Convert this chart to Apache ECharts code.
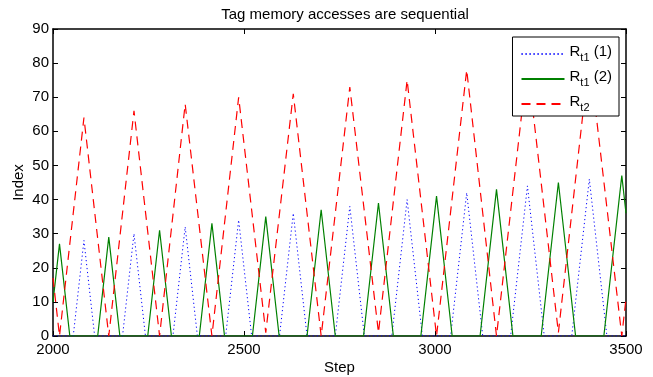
<!DOCTYPE html>
<html>
<head>
<meta charset="utf-8">
<script src="https://cdn.jsdelivr.net/npm/echarts@6/dist/echarts.min.js"></script>
<style>
html,body{margin:0;padding:0;background:#fff;}
#chart{width:653px;height:377px;}
</style>
</head>
<body>
<div id="chart"></div>
<script>
// axis ticks
var xTicks = [2000, 2500, 3000, 3500];
var yTicks = [0, 10, 20, 30, 40, 50, 60, 70, 80, 90];

// R_t1 (1) - blue dotted
var blueSteps = [2000, 2053, 2081, 2109, 2182, 2212, 2242, 2314, 2346, 2378, 2452, 2486, 2520, 2593, 2629, 2665, 2739, 2777, 2815, 2887, 2927, 2967, 3041, 3083, 3125, 3198, 3242, 3286, 3358, 3404, 3450, 3500];
var blueIndex = [0, 0, 28, 0, 0, 30, 0, 0, 32, 0, 0, 34, 0, 0, 36, 0, 0, 38, 0, 0, 40, 0, 0, 42, 0, 0, 44, 0, 0, 46, 0, 0];

// R_t1 (2) - green solid
var greenSteps = [2000, 2017, 2044, 2117, 2146, 2175, 2248, 2279, 2310, 2383, 2416, 2449, 2522, 2557, 2592, 2665, 2702, 2739, 2813, 2852, 2891, 2963, 3004, 3045, 3118, 3161, 3204, 3278, 3323, 3368, 3442, 3489, 3500];
var greenIndex = [10, 27, 0, 0, 29, 0, 0, 31, 0, 0, 33, 0, 0, 35, 0, 0, 37, 0, 0, 39, 0, 0, 41, 0, 0, 43, 0, 0, 45, 0, 0, 47, 36];

// R_t2 - red dashed
var redSteps = [2000, 2017, 2081, 2146, 2212, 2279, 2346, 2416, 2486, 2557, 2629, 2702, 2777, 2852, 2927, 3004, 3083, 3161, 3242, 3323, 3404, 3489, 3500];
var redIndex = [17, 0, 64, 0, 66, 0, 68, 0, 70, 1, 71, 0, 73, 1, 75, 0, 78, 0, 80, 1, 82, 0, 11];

var names = ['Rt1 (1)', 'Rt1 (2)', 'Rt2'];
var legendText = {
    'Rt1 (1)': '{b|R}{s|t1}{b| (1)}',
    'Rt1 (2)': '{b|R}{s|t1}{b| (2)}',
    'Rt2': '{b|R}{s|t2}'
};

function pairs(xs, ys){
    var out = [];
    for (var i = 0; i < xs.length; i++) out.push([xs[i], ys[i]]);
    return out;
}

var font = 'Liberation Sans, Arial, Helvetica, sans-serif';

var chart = {
    init:function(){
        this.mc = echarts.init(document.getElementById('chart'));
        this.render();
    },
    axisX:function(pos, show){
        return {
            type:'value', position:pos, min:xTicks[0], max:xTicks[xTicks.length-1],
            interval:xTicks[1]-xTicks[0],
            name: show ? 'Step' : '', nameLocation:'middle', nameGap:24, nameMoveOverlap:false,
            nameTextStyle:{fontFamily:font, fontSize:15, color:'#000'},
            axisLine:{show:true, onZero:false, lineStyle:{color:'#000', width:1.5}},
            axisTick:{show:true, inside:true, length:5, lineStyle:{color:'#000'}},
            axisLabel:{show:show, margin:6, fontFamily:font, fontSize:15, color:'#000',
                       formatter:function(v){ return String(v); }},
            splitLine:{show:false}
        };
    },
    axisY:function(pos, show){
        return {
            type:'value', position:pos, min:yTicks[0], max:yTicks[yTicks.length-1],
            interval:yTicks[1]-yTicks[0],
            name: show ? 'Index' : '', nameLocation:'middle', nameGap:27, nameMoveOverlap:false,
            nameTextStyle:{fontFamily:font, fontSize:15, color:'#000'},
            axisLine:{show:true, onZero:false, lineStyle:{color:'#000', width:1.5}},
            axisTick:{show:true, inside:true, length:5, lineStyle:{color:'#000'}},
            axisLabel:{show:show, margin:4, fontFamily:font, fontSize:15, color:'#000'},
            splitLine:{show:false}
        };
    },
    render:function(){
        var option = {
            animation:false,
            backgroundColor:'#fff',
            title:{
                text:'Tag memory accesses are sequential',
                left:340, top:2, textAlign:'center',
                textStyle:{fontFamily:font, fontSize:15, fontWeight:'normal', color:'#000'}
            },
            grid:{left:53, right:27, top:29, bottom:41, outerBoundsMode:'none', containLabel:false},
            legend:{
                data:names, orient:'vertical', right:34, top:37,
                backgroundColor:'#fff', borderColor:'#000', borderWidth:1,
                padding:[7, 7, 3, 8], itemGap:6, itemWidth:43, itemHeight:12,
                itemStyle:{opacity:0},
                formatter:function(n){ return legendText[n]; },
                textStyle:{
                    fontFamily:font, color:'#000',
                    rich:{
                        b:{fontFamily:font, fontSize:15, color:'#000', verticalAlign:'top', lineHeight:20},
                        s:{fontFamily:font, fontSize:11, color:'#000', verticalAlign:'top', padding:[8,0,0,0], lineHeight:12}
                    }
                }
            },
            xAxis:[this.axisX('bottom', true), this.axisX('top', false)],
            yAxis:[this.axisY('left', true), this.axisY('right', false)],
            series:[
                {name:names[0], type:'line', symbol:'none', data:pairs(blueSteps, blueIndex),
                 lineStyle:{color:'#0000ff', width:1, type:[1.2, 2.8]}, itemStyle:{color:'#0000ff'}},
                {name:names[1], type:'line', symbol:'none', data:pairs(greenSteps, greenIndex),
                 lineStyle:{color:'#008000', width:1.2, type:'solid'}, itemStyle:{color:'#008000'}},
                {name:names[2], type:'line', symbol:'none', data:pairs(redSteps, redIndex),
                 lineStyle:{color:'#ff0000', width:1.2, type:[9, 6]}, itemStyle:{color:'#ff0000'}}
            ]
        };
        this.mc.setOption(option);
    }
};

chart.init();
</script>
</body>
</html>
